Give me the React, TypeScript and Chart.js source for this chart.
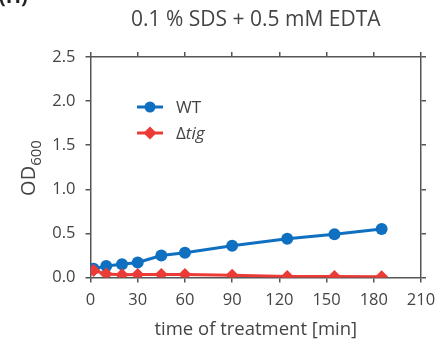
import React, { useEffect, useRef } from "react";
import { Chart, registerables } from "chart.js";

Chart.register(...registerables);

const times = [2, 10, 20, 30, 45, 60, 90, 125, 155, 185];
const wtValues = [0.1, 0.13, 0.15, 0.17, 0.25, 0.28, 0.36, 0.44, 0.49, 0.55];
const tigValues = [0.08, 0.04, 0.03, 0.035, 0.035, 0.035, 0.025, 0.01, 0.01, 0.008];
const xTicks = [0, 30, 60, 90, 120, 150, 180, 210];
const yTicks = [0, 0.5, 1.0, 1.5, 2.0, 2.5];

const titleText = "0.1 % SDS + 0.5 mM EDTA";
const xTitle = "time of treatment [min]";
const BLUE = "#0f6fc0";
const RED = "#ec3a36";
const AXIS = "#555555";
const TEXT = "#444444";
const FONT = "'Open Sans', 'Noto Sans', sans-serif";

const decorPlugin = {
  id: "decor",
  afterDraw(chart: any) {
    const ctx = chart.ctx;
    const a = chart.chartArea;
    ctx.save();
    // panel letter (cut off at top)
    ctx.fillStyle = "#222";
    ctx.font = `bold 20px ${FONT}`;
    ctx.textAlign = "left";
    ctx.textBaseline = "alphabetic";
    ctx.fillText("(H)", -1, 3);
    // title
    ctx.fillStyle = TEXT;
    ctx.font = `21px ${FONT}`;
    ctx.textAlign = "center";
    ctx.textBaseline = "middle";
    ctx.fillText(titleText, (a.left + a.right) / 2, 20);
    // y title OD600
    ctx.translate(29, 168);
    ctx.rotate(-Math.PI / 2);
    ctx.font = `20px ${FONT}`;
    const w1 = ctx.measureText("OD").width;
    ctx.font = `15px ${FONT}`;
    const w2 = ctx.measureText("600").width;
    const total = w1 + w2;
    ctx.textAlign = "left";
    ctx.textBaseline = "alphabetic";
    ctx.font = `20px ${FONT}`;
    ctx.fillText("OD", -total / 2, 6);
    ctx.font = `15px ${FONT}`;
    ctx.fillText("600", -total / 2 + w1, 12);
    ctx.restore();

    // legend
    ctx.save();
    const items = [
      { y: 107, color: BLUE, style: "circle", label: [{ t: "WT", it: false }] },
      { y: 133, color: RED, style: "diamond", label: [{ t: "Δ", it: false }, { t: "tig", it: true }] },
    ];
    for (const item of items) {
      ctx.strokeStyle = item.color;
      ctx.fillStyle = item.color;
      ctx.lineWidth = 3;
      ctx.beginPath();
      ctx.moveTo(137, item.y);
      ctx.lineTo(163, item.y);
      ctx.stroke();
      ctx.beginPath();
      if (item.style === "circle") {
        ctx.arc(150, item.y, 5.5, 0, Math.PI * 2);
      } else {
        ctx.moveTo(150, item.y - 6.5);
        ctx.lineTo(156.5, item.y);
        ctx.lineTo(150, item.y + 6.5);
        ctx.lineTo(143.5, item.y);
        ctx.closePath();
      }
      ctx.fill();
      let x = 176;
      ctx.fillStyle = TEXT;
      ctx.textAlign = "left";
      ctx.textBaseline = "middle";
      for (const part of item.label) {
        ctx.font = `${part.it ? "italic " : ""}17px ${FONT}`;
        ctx.fillText(part.t, x, item.y + 1);
        x += ctx.measureText(part.t).width;
      }
    }
    ctx.restore();
  },
};

const zeroPad = (s: any) => {
  s.paddingLeft = 0;
  s.paddingRight = 0;
  s.paddingTop = 0;
  s.paddingBottom = 0;
};

export default function App() {
  const ref = useRef<HTMLCanvasElement>(null);
  useEffect(() => {
    if (!ref.current) return;
    const gridCommon = {
      drawOnChartArea: false,
      drawTicks: true,
      tickLength: 5,
      color: AXIS,
      lineWidth: 1.5,
    };
    const chart = new Chart(ref.current, {
      type: "line",
      data: {
        datasets: [
          {
            label: "Δtig",
            data: times.map((t, i) => ({ x: t, y: tigValues[i] })),
            borderColor: RED,
            backgroundColor: RED,
            borderWidth: 3,
            pointStyle: "rectRot",
            pointRadius: 6.5,
            pointBorderWidth: 0,
            order: 0,
          },
          {
            label: "WT",
            data: times.map((t, i) => ({ x: t, y: wtValues[i] })),
            borderColor: BLUE,
            backgroundColor: BLUE,
            borderWidth: 3,
            pointStyle: "circle",
            pointRadius: 6,
            pointBorderWidth: 0,
            order: 1,
          },
        ],
      },
      options: {
        animation: false,
        responsive: false,
        maintainAspectRatio: false,
        layout: { padding: 0 },
        plugins: { legend: { display: false }, title: { display: false }, tooltip: { enabled: false } },
        scales: {
          x: {
            type: "linear",
            position: "bottom",
            min: 0,
            max: 210,
            afterBuildTicks: (s: any) => { s.ticks = xTicks.map((v) => ({ value: v })); },
            afterFit: (s: any) => { s.height = 65.5; zeroPad(s); },
            grid: gridCommon,
            border: { color: AXIS, width: 1.5 },
            ticks: { color: TEXT, font: { family: FONT, size: 16.5 }, padding: 8, maxRotation: 0 },
            title: { display: true, text: xTitle, color: TEXT, font: { family: FONT, size: 18.5 }, padding: { top: 4, bottom: 2 } },
          },
          x2: {
            type: "linear",
            position: "top",
            min: 0,
            max: 210,
            afterBuildTicks: (s: any) => { s.ticks = xTicks.map((v) => ({ value: v })); },
            afterFit: (s: any) => { s.height = 57; zeroPad(s); },
            grid: gridCommon,
            border: { color: AXIS, width: 1.5 },
            ticks: { display: false },
          },
          y: {
            type: "linear",
            position: "left",
            min: 0,
            max: 2.5,
            afterBuildTicks: (s: any) => { s.ticks = yTicks.map((v) => ({ value: v })); },
            afterFit: (s: any) => { s.width = 90.5; zeroPad(s); },
            grid: gridCommon,
            border: { color: AXIS, width: 1.5 },
            ticks: {
              color: TEXT,
              font: { family: FONT, size: 16.5 },
              padding: 10,
              callback: (v: any) => Number(v).toFixed(1),
            },
          },
          y2: {
            type: "linear",
            position: "right",
            min: 0,
            max: 2.5,
            afterBuildTicks: (s: any) => { s.ticks = yTicks.map((v) => ({ value: v })); },
            afterFit: (s: any) => { s.width = 17; zeroPad(s); },
            grid: gridCommon,
            border: { color: AXIS, width: 1.5 },
            ticks: { display: false },
          },
        },
      } as any,
      plugins: [decorPlugin],
    });
    return () => chart.destroy();
  }, []);
  return (
    <div style={{ position: "fixed", left: 0, top: 0, width: 438, height: 343, background: "#fff" }}>
      <canvas ref={ref} width={438} height={343} style={{ width: 438, height: 343 }} />
    </div>
  );
}
